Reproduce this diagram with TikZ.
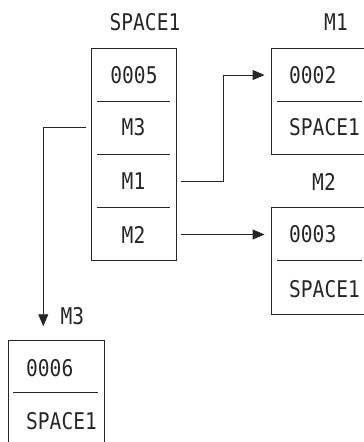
\documentclass[tikz,border=0pt]{standalone}
\usepackage{fontspec}
\newfontfamily\dmono[FakeStretch=0.85]{DejaVu Sans Mono}
\usetikzlibrary{arrows.meta,calc}
\begin{document}
\begin{tikzpicture}[x=1pt,y=-1pt,
  txt/.style={inner sep=0pt, font=\dmono\fontsize{23}{26}\selectfont, text=black!85},
  frame/.style={draw=black!85, line width=0.9pt, rectangle, inner sep=0pt},
  divider/.style={draw=black!85, line width=0.9pt},
  link/.style={draw=black!85, line width=0.9pt, -{Triangle[length=12pt,width=10pt]}}
]
\clip (0,0) rectangle (364,442);
% boxes
\node[frame, minimum width=84.5pt, minimum height=212pt] (sbox) at (133.75,154) {};
\node[frame, minimum width=100pt, minimum height=106pt] (m1box) at (321,101.3) {};
\node[frame, minimum width=100pt, minimum height=106.8pt] (m2box) at (321,260.9) {};
\node[frame, minimum width=96pt, minimum height=110pt] (m3box) at (56,395) {};
% dividers
\draw[divider] (96.7,101) -- (170,101);
\draw[divider] (96.7,154.3) -- (170,154.3);
\draw[divider] (96.7,207.7) -- (170,207.7);
\draw[divider] (276.7,101) -- (361.7,101);
\draw[divider] (276.7,260.7) -- (361.7,260.7);
\draw[divider] (13.3,392.7) -- (98.3,392.7);
% texts
\node[txt] (lspace) at (145,21.7) {SPACE1};
\node[txt] (c0005) at (134,75) {0005};
\node[txt] (cm3) at (133.5,127) {M3};
\node[txt] (cm1) at (133.5,181.5) {M1};
\node[txt] (cm2) at (133.5,234.5) {M2};
\node[txt] (lm1) at (336,21.7) {M1};
\node[txt] (lm2) at (324,181.5) {M2};
\node[txt, anchor=west] (m1a) at (289,75) {0002};
\node[txt, anchor=west] (m1b) at (289,127) {SPACE1};
\node[txt, anchor=west] (m2a) at (289,234.5) {0003};
\node[txt, anchor=west] (m2b) at (289,289) {SPACE1};
\node[txt] (lm3) at (72.5,316.5) {M3};
\node[txt, anchor=west] (m3a) at (26,368) {0006};
\node[txt, anchor=west] (m3b) at (26,421.5) {SPACE1};
% connectors
\coordinate (k1) at (223.3,0);
\coordinate (k3) at (43.3,0);
\draw[link] ($(sbox.east |- cm1)+(5,0)$) -| (k1 |- m1a) -- ($(m1box.west |- m1a)+(-6,0)$);
\draw[link] ($(sbox.east |- cm2)+(5,0)$) -- ($(m2box.west |- cm2)+(-6,0)$);
\draw[link] ($(sbox.west |- cm3)+(-5.5,0)$) -| ($(k3 |- m3box.north)+(0,-13.3)$);
\end{tikzpicture}
\end{document}
